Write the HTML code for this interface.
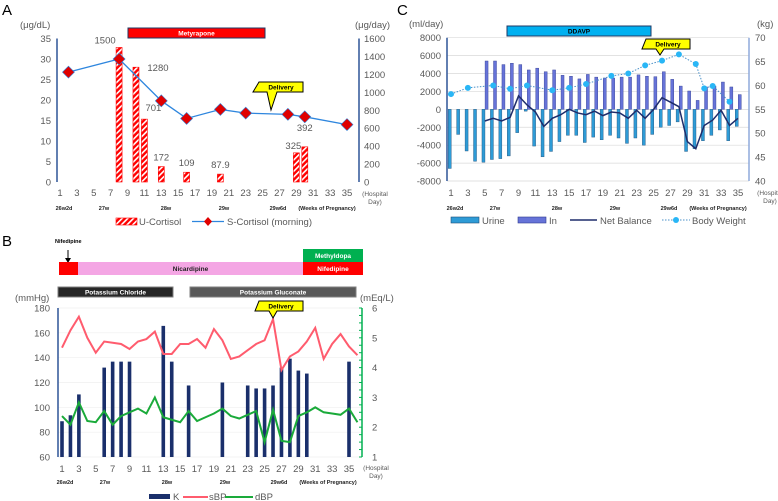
<!DOCTYPE html>
<html><head><meta charset="utf-8"><style>
body{margin:0;background:#fff}
svg{display:block;font-family:"Liberation Sans",sans-serif}
</style></head><body>
<svg id="c" width="778" height="501" viewBox="0 0 778 501" xmlns="http://www.w3.org/2000/svg"></svg>
<script>
// ---- Panel A data ----
const aSDays=[2,8,13,16,20,23,28,30,35];
const aSCort=[26.8,30,19.8,15.5,17.7,16.8,16.5,15.9,14];
const aUDays=[8,10,11,13,16,20,29,30];
const aUCort=[1500,1280,701,172,109,87.9,325,392];
const aULabels=["1500","1280","701","172","109","87.9","325","392"];
const aLeftTicks=[0,5,10,15,20,25,30,35];
const aRightTicks=[0,200,400,600,800,1000,1200,1400,1600];
// ---- Panel C data ----
const cInDays=[5,6,7,8,9,10,11,12,13,14,15,16,17,18,19,20,21,22,23,24,25,26,27,28,29,30,31,32,33,34,35];
const cIn=[5400,5400,5000,5150,5000,4400,4600,4200,4400,3800,3700,3400,3900,3600,3500,3500,3600,3600,3850,3700,3650,4200,3350,2600,2050,1000,2500,2600,3050,2500,1650];
const cUrineDays=[1,2,3,4,5,6,7,8,9,10,11,12,13,14,15,16,17,18,19,20,21,22,23,24,25,26,27,28,29,30,31,32,33,34,35];
const cUrine=[-6600,-2800,-4650,-5800,-5900,-5600,-5500,-5200,-2600,-200,-4100,-5300,-4700,-3600,-2900,-2900,-3700,-3100,-3400,-2900,-3200,-3800,-3200,-4000,-2800,-2000,-1800,-1400,-4700,-4400,-3500,-2900,-2300,-3500,-1900];
const cNetDays=cInDays;
const cNet=[-1300,-1000,-1300,-900,1500,500,-300,-1900,-1000,-600,0,-400,-600,-200,-700,-300,-400,-1000,-100,-1000,0,1300,800,300,-3600,-4400,-1800,-1200,-100,-1800,-1000];
const cBWDays=[1,3,6,8,10,13,15,17,20,22,24,26,28,30,31,32,34];
const cBW=[58.2,59.5,60,59.3,60,59,59.5,60.3,62,62.5,64.2,65.2,66.5,64.5,59.4,59.9,56.6];
const cLeftTicks=[-8000,-6000,-4000,-2000,0,2000,4000,6000,8000];
const cRightTicks=[40,45,50,55,60,65,70];
// ---- Panel B data ----
const bKDays=[1,2,3,6,7,8,9,13,14,16,20,23,24,25,26,27,28,29,30,35];
const bK=[2.2,2.4,3.1,4.0,4.2,4.2,4.2,5.4,4.2,3.4,3.5,3.4,3.3,3.3,3.4,4.0,4.3,3.9,3.8,4.2];
const bSBP=[148,162,173,156,144,153,152,151,147,153,155,161,143,143,151,151,155,148,163,154,139,141,146,151,154,171,130,141,145,153,164,139,151,159,149,142];
const bDBP=[93,86,104,89,88,97,86,93,96,99,95,108,92,90,88,97,89,92,95,99,93,91,94,97,72,98,73,72,93,96,100,96,95,94,99,88];
const bLeftTicks=[60,80,100,120,140,160,180];
const bRightTicks=[1,2,3,4,5,6];
const dayTicks=[1,3,5,7,9,11,13,15,17,19,21,23,25,27,29,31,33,35];

const svg=document.getElementById('c');
const NS='http://www.w3.org/2000/svg';
function el(tag,attrs,parent,txt){const e=document.createElementNS(NS,tag);for(const k in attrs)e.setAttribute(k,attrs[k]);if(txt!==undefined)e.textContent=txt;(parent||svg).appendChild(e);return e;}
function lin(d0,d1,r0,r1){return v=>r0+(v-d0)*(r1-r0)/(d1-d0);}
function txt(x,y,s,size,opts,name){const t=el('text',Object.assign({x:x,y:y,'font-size':size,fill:'#595959'},opts||{}),svg,s);

return t;}
function box(x,y,w,h,fill,label,name,tc,stroke){const g=el('g',{});


el('rect',{x:x,y:y,width:w,height:h,fill:fill,stroke:stroke||'none','stroke-width':1},g);
el('text',{x:x+w/2,y:y+h/2+2.5,'font-size':6.5,'font-weight':'bold','text-anchor':'middle',fill:tc||'#fff'},g,label);}
function delivery(x,y,px,py,name){const g=el('g',{});


el('path',{d:`M${x},${y}h44v10h-${44-18}l${px-x-18},${py-y-10}l-4,${-(py-y-10)}h-14z`,fill:'#ffff00',stroke:'#000','stroke-width':1},g);
el('text',{x:x+22,y:y+7.5,'font-size':6.5,'font-weight':'bold','text-anchor':'middle',fill:'#000'},g,'Delivery');}
function grid(x0,x1,ys,color){ys.forEach(y=>{const l=el('line',{x1:x0,x2:x1,y1:y,y2:y,stroke:color,'stroke-width':0.7});

});}
function axis(x,y0,y1,color,ticks,side,name){const g=el('g',{});


el('line',{x1:x,x2:x,y1:y0,y2:y1,stroke:color,'stroke-width':1.5},g);
ticks.forEach(t=>el('line',{x1:x,x2:x+(side<0?-3:3),y1:t,y2:t,stroke:color,'stroke-width':1},g));}
function xLabels(X,y,yw,weeks){dayTicks.forEach(d=>txt(X(d),y,String(d),9.5,{'text-anchor':'middle'},'x-tick-label'));
weeks.forEach(w=>txt(w[0],yw,w[1],5.5,{'text-anchor':'middle',fill:'#222','font-weight':'bold'},'week-label'));}
const weeksA=[[64,'26w2d'],[104,'27w'],[166,'28w'],[224,'29w'],[278,'29w6d'],[327,'(Weeks of Pregnancy)']];

// ================= Panel A =================
txt(2,15,'A',15,{fill:'#000'},'panel-a-letter');
const XA=lin(1,35,60,347), YA=lin(0,35,182,38.5), YA2=lin(0,1600,182,38.5);
txt(20,28,'(μg/dL)',9.5,{},'y-axis-title-left');
txt(355,28,'(μg/day)',9.5,{},'y-axis-title-right');
box(128,28,137,10,'#ff0000','Metyrapone','metyrapone-bar','#fff','#1f3864');
axis(57,38.5,182,'#2f5597',[],-1,'y-axis-left');
axis(359,38.5,182,'#2f5597',[],1,'y-axis-right');
aLeftTicks.forEach(v=>txt(51,YA(v)+3.5,String(v),9.5,{'text-anchor':'end'},'y-tick-left'));
aRightTicks.forEach(v=>txt(364,YA2(v)+3.5,String(v),9.5,{},'y-tick-right'));
const defs=el('defs',{});
const pat=el('pattern',{id:'hatch',patternUnits:'userSpaceOnUse',width:4,height:4,patternTransform:'rotate(45)'},defs);
el('rect',{width:4,height:4,fill:'#ff0000'},pat);el('rect',{width:1.6,height:4,fill:'#fff'},pat);
aUDays.forEach((d,i)=>{const y=YA2(aUCort[i]);const r=el('rect',{x:XA(d)-3,y:y,width:6,height:182-y,fill:'url(#hatch)',stroke:'#ff0000','stroke-width':0.6});

});
const aLblOff=[[-14,-4],[22,4],[9,-8],[0,-6],[0,-6],[0,-6],[-3,-4],[0,-16]];
aUDays.forEach((d,i)=>txt(XA(d)+aLblOff[i][0],YA2(aUCort[i])+aLblOff[i][1],aULabels[i],9.5,{'text-anchor':'middle'},'u-cortisol-value'));
const pA=el('polyline',{points:aSDays.map((d,i)=>XA(d)+','+YA(aSCort[i])).join(' '),fill:'none',stroke:'#2e86de','stroke-width':1.3});


aSDays.forEach((d,i)=>{const x=XA(d),y=YA(aSCort[i]);const m=el('path',{d:`M${x},${y-6}L${x+6},${y}L${x},${y+6}L${x-6},${y}Z`,fill:'#e00000',stroke:'#2e86de','stroke-width':0.6});

});
delivery(259,82,271,110,'delivery-callout-a');
xLabels(XA,196,210,weeksA);
txt(375,196,'(Hospital',6.5,{'text-anchor':'middle'},'x-axis-title');txt(375,204,'Day)',6.5,{'text-anchor':'middle'},'x-axis-title');
el('rect',{x:116,y:218,width:21,height:7,fill:'url(#hatch)',stroke:'#ff0000','stroke-width':0.6});
txt(139,225,'U-Cortisol',9.5,{},'legend-u-cortisol');
el('line',{x1:192,x2:224,y1:221.5,y2:221.5,stroke:'#2e86de','stroke-width':1.3});
el('path',{d:'M208,217L212,221.5L208,226L204,221.5Z',fill:'#e00000'});
txt(227,225,'S-Cortisol (morning)',9.5,{},'legend-s-cortisol');

// ================= Panel C =================
txt(397,15,'C',15,{fill:'#000'},'panel-c-letter');
const XC=lin(1,35,451,738), YC=lin(-8000,8000,181,37.7), YC2=lin(40,70,181,37.7);
txt(409,27,'(ml/day)',9.5,{},'y-axis-title-left');
txt(757,27,'(kg)',9.5,{},'y-axis-title-right');
box(507,26,144,10,'#00b0f0','DDAVP','ddavp-bar','#000','#1f3864');
grid(447,749,cLeftTicks.map(YC),'#d9d9d9');
axis(447,37.7,181,'#2f5597',[],-1,'y-axis-left');
axis(749,37.7,181,'#8faadc',[],1,'y-axis-right');
cLeftTicks.forEach(v=>txt(441,YC(v)+3.5,String(v),9.5,{'text-anchor':'end'},'y-tick-left'));
cRightTicks.forEach(v=>txt(755,YC2(v)+3.5,String(v),9.5,{},'y-tick-right'));
cUrineDays.forEach((d,i)=>{const y=YC(cUrine[i]);const r=el('rect',{x:XC(d)-2.8,y:YC(0),width:3,height:y-YC(0),fill:'#2e9bd6',stroke:'#1f4e79','stroke-width':0.4});

});
cInDays.forEach((d,i)=>{const y=YC(cIn[i]);const r=el('rect',{x:XC(d)+0.3,y:y,width:3,height:YC(0)-y,fill:'#6673d8',stroke:'#2f3a8f','stroke-width':0.4});

});
const pN=el('polyline',{points:cNetDays.map((d,i)=>XC(d)+','+YC(cNet[i])).join(' '),fill:'none',stroke:'#1f2d6b','stroke-width':1.5});


const pW=el('polyline',{points:cBWDays.map((d,i)=>XC(d)+','+YC2(cBW[i])).join(' '),fill:'none',stroke:'#4a90c8','stroke-width':1,'stroke-dasharray':'1.5,1.5'});


cBWDays.forEach((d,i)=>{const c=el('circle',{cx:XC(d),cy:YC2(cBW[i]),r:3,fill:'#29b6f6'});

});
delivery(646,39,660,55,'delivery-callout-c');
xLabels(XC,196,210,weeksA.map(w=>[w[0]+391,w[1]]));
txt(770,195,'(Hospital',6.5,{'text-anchor':'middle'},'x-axis-title');txt(770,203,'Day)',6.5,{'text-anchor':'middle'},'x-axis-title');
el('rect',{x:451,y:217,width:28,height:6,fill:'#2e9bd6',stroke:'#1f4e79','stroke-width':0.6});
txt(482,224,'Urine',9.5,{},'legend-urine');
el('rect',{x:518,y:217,width:28,height:6,fill:'#6673d8',stroke:'#2f3a8f','stroke-width':0.6});
txt(549,224,'In',9.5,{},'legend-in');
el('line',{x1:570,x2:597,y1:220,y2:220,stroke:'#1f2d6b','stroke-width':1.5});
txt(600,224,'Net Balance',9.5,{},'legend-net-balance');
el('line',{x1:662,x2:690,y1:220,y2:220,stroke:'#4a90c8','stroke-width':1,'stroke-dasharray':'1.5,1.5'});
el('circle',{cx:676,cy:220,r:3,fill:'#29b6f6'});
txt(692,224,'Body Weight',9.5,{},'legend-body-weight');

// ================= Panel B =================
txt(2,246,'B',15,{fill:'#000'},'panel-b-letter');
txt(55,243,'Nifedipine',5.5,{fill:'#000','font-weight':'bold'},'nifedipine-label');
el('line',{x1:68,x2:68,y1:250,y2:259,stroke:'#000','stroke-width':1});
el('path',{d:'M65,258L71,258L68,263Z',fill:'#000'});
box(59,262,19,13,'#ff0000','','nifedipine-bar-early');
box(78,262,225,13,'#f4a6e4','Nicardipine','nicardipine-bar','#222');
box(303,249,60,13,'#00b050','Methyldopa','methyldopa-bar');
box(303,262,60,13,'#ff0000','Nifedipine','nifedipine-bar-late');
box(58,287,115,10,'#262626','Potassium Chloride','potassium-chloride-bar','#fff','#7f7f7f');
box(190,287,166,10,'#595959','Potassium Gluconate','potassium-gluconate-bar','#fff','#7f7f7f');
const XB=lin(1,35,62,349), YB=lin(60,180,457,308), YB2=lin(1,6,457,308);
txt(15,301,'(mmHg)',9.5,{},'y-axis-title-left');
txt(360,301,'(mEq/L)',9.5,{},'y-axis-title-right');
grid(58,362,bLeftTicks.map(YB),'#efefef');
axis(58,308,457,'#2f5597',[],-1,'y-axis-left');
const minor=[];for(let v=1;v<=6.001;v+=0.25)minor.push(YB2(v));
axis(362,308,457,'#00b050',minor,-1,'y-axis-right');
bLeftTicks.forEach(v=>txt(50,YB(v)+3.5,String(v),9.5,{'text-anchor':'end'},'y-tick-left'));
bRightTicks.forEach(v=>txt(372,YB2(v)+3.5,String(v),9.5,{},'y-tick-right'));
bKDays.forEach((d,i)=>{const y=YB2(bK[i]);const r=el('rect',{x:XB(d)-1.8,y:y,width:3.6,height:457-y,fill:'#1a2f6b'});

});
const pS=el('polyline',{points:bSBP.map((v,i)=>XB(i+1)+','+YB(v)).join(' '),fill:'none',stroke:'#ff5c6e','stroke-width':2});


const pD=el('polyline',{points:bDBP.map((v,i)=>XB(i+1)+','+YB(v)).join(' '),fill:'none',stroke:'#1aaa3a','stroke-width':2});


delivery(259,301,273,318,'delivery-callout-b');
xLabels(XB,472,484,weeksA.map(w=>[w[0]+1,w[1]]));
txt(376,470,'(Hospital',6.5,{'text-anchor':'middle'},'x-axis-title');txt(376,478,'Day)',6.5,{'text-anchor':'middle'},'x-axis-title');
el('rect',{x:149,y:494,width:21,height:5,fill:'#1a2f6b'});
txt(173,500,'K',9.5,{},'legend-k');
el('line',{x1:183,x2:208,y1:497,y2:497,stroke:'#ff5c6e','stroke-width':2});
txt(209,500,'sBP',9.5,{},'legend-sbp');
el('line',{x1:225,x2:253,y1:497,y2:497,stroke:'#1aaa3a','stroke-width':2});
txt(255,500,'dBP',9.5,{},'legend-dbp');
</script>
</body></html>
